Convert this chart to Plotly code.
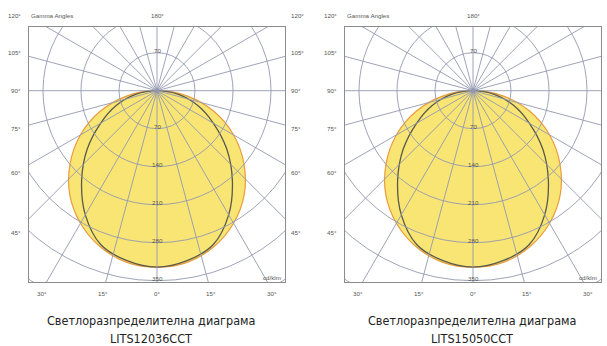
import numpy as np
import plotly.graph_objects as go

# luminous intensity (cd/klm), gamma in degrees from nadir
gamma = [0, 10, 20, 30, 40, 50, 60, 70, 80, 90]
c0_12036 = [325, 321, 306, 282, 250, 209, 163, 112, 57, 0]
c90_12036 = [325, 318, 302, 264, 216, 168, 120, 80, 40, 0]
c0_15050 = [325, 321, 306, 282, 250, 209, 163, 112, 57, 0]
c90_15050 = [325, 318, 302, 264, 216, 168, 120, 80, 40, 0]

models = ["LITS12036CCT", "LITS15050CCT"]
caption = "Светлоразпределителна диаграма"

ring_values = [70, 140, 210, 280, 350, 420]
ring_labels = ["70", "140", "210", "280", "350"]
side_angles = [105, 90, 75, 60, 45]
bottom_angles = [30, 15, 0, 15, 30]
bottom_signs = [-1, -1, 0, 1, 1]

W, H = 607, 346
S = 0.5429  # px per cd/klm
HALF = 128          # half frame width, px
UP, DOWN = 63.7, 191.3   # frame above / below the centre, px
CY = 90.7
XR = HALF / S

GRID = "#9398b0"
TXT = "#555555"
small = dict(family="Liberation Sans, Arial, sans-serif", size=6.2, color=TXT)
capfont = dict(family="Liberation Sans Narrow, DejaVu Sans Condensed, sans-serif",
               size=12.5, color="#222222")

fig = go.Figure()


def curve(vals):
    g = np.array([-a for a in gamma[::-1]] + gamma[1:], dtype=float)
    v = np.array(vals[::-1] + vals[1:], dtype=float)
    r = np.radians(g)
    return v * np.sin(r), -v * np.cos(r)


def note(px, py, text, font=small, xa="center", ya="middle"):
    fig.add_annotation(x=px / W, y=1 - py / H, xref="paper", yref="paper", text=text,
                       showarrow=False, font=font, xanchor=xa, yanchor=ya)


# (C0 curve, C90 curve, axis suffix, centre x px, caption centre x px)
panels = [
    (c0_12036, c90_12036, "", 157, 151),
    (c0_15050, c90_15050, "2", 473, 472),
]

for i, (c0, c90, sfx, cx, capx) in enumerate(panels):
    xa = "x" + sfx
    ya = "y" + sfx
    x, y = curve(c0)
    fig.add_trace(go.Scatter(x=x, y=y, mode="lines", fill="toself",
                             fillcolor="#f8e574", line=dict(color="#e99c3e", width=1.2, shape="spline"),
                             xaxis=xa, yaxis=ya, hoverinfo="skip", showlegend=False))
    x, y = curve(c90)
    fig.add_trace(go.Scatter(x=x, y=y, mode="lines",
                             line=dict(color="#5a5a4c", width=1.3, shape="spline"),
                             xaxis=xa, yaxis=ya, hoverinfo="skip", showlegend=False))

    # polar grid
    for rv in ring_values:
        fig.add_shape(type="circle", xref=xa, yref=ya, x0=-rv, x1=rv, y0=-rv, y1=rv,
                      line=dict(color=GRID, width=0.9), layer="above")
    for a in range(0, 180, 15):
        t = np.radians(a)
        R = 900
        fig.add_shape(type="line", xref=xa, yref=ya,
                      x0=-R * np.sin(t), y0=R * np.cos(t), x1=R * np.sin(t), y1=-R * np.cos(t),
                      line=dict(color=GRID, width=0.9), layer="above")
    fig.add_trace(go.Scatter(x=[0], y=[0], mode="markers", marker=dict(color="#3b4070", size=4),
                             xaxis=xa, yaxis=ya, hoverinfo="skip", showlegend=False))

    left, right = cx - HALF, cx + HALF
    bottom = CY + DOWN
    # ring labels
    note(cx, CY - 70 * S - 2, "70")
    for lb in ring_labels:
        note(cx, CY + float(lb) * S - 2, lb)
    # side gamma labels
    for a in side_angles:
        py = CY + 142 * np.tan(np.radians(90 - a))
        note(left - 6, py, "%d°" % a, xa="right")
        note(right + 4, py, "%d°" % a, xa="left")
    note(left - 6, 16, "120°", xa="right")
    note(right + 4, 16, "120°", xa="left")
    note(left, 16, "Gamma Angles", xa="left")
    note(cx, 16, "180°")
    for a, sgn in zip(bottom_angles, bottom_signs):
        note(cx + sgn * 200 * np.tan(np.radians(a)), 293, "%d°" % a)
    note(right - 2, bottom - 5, "cd/klm", xa="right")

    note(capx, 320, caption, font=capfont)
    note(capx, 338.5, models[i], font=capfont)

ax = dict(showgrid=False, zeroline=False, showticklabels=False, ticks="",
          showline=True, mirror=True, linecolor="#8c8c8c", linewidth=1, fixedrange=True)
yr = [-DOWN / S, UP / S]
ydom = [1 - (CY + DOWN) / H, 1 - (CY - UP) / H]

fig.update_layout(
    width=W, height=H, margin=dict(l=0, r=0, t=0, b=0),
    paper_bgcolor="white", plot_bgcolor="white",
    xaxis=dict(ax, domain=[(157 - HALF) / W, (157 + HALF) / W], range=[-XR, XR], anchor="y"),
    yaxis=dict(ax, domain=ydom, range=yr, anchor="x"),
    xaxis2=dict(ax, domain=[(473 - HALF) / W, (473 + HALF) / W], range=[-XR, XR], anchor="y2"),
    yaxis2=dict(ax, domain=ydom, range=yr, anchor="x2"),
    showlegend=False,
)

fig.write_html("out.html", config={"displayModeBar": False},
               post_script="document.body.style.margin='0';")
